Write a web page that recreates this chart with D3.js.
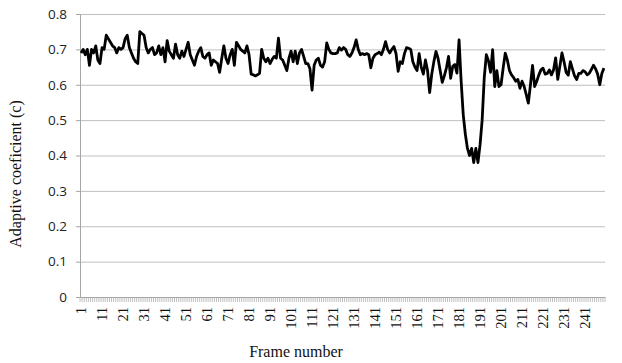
<!DOCTYPE html>
<html>
<head>
<meta charset="utf-8">
<script src="https://cdn.jsdelivr.net/npm/d3@7"></script>
<style>
  body { margin: 0; background: #fff; }
  svg { display: block; }
</style>
</head>
<body>
<svg id="chart"></svg>
<script>
// adaptive coefficient per frame
const coefficient = [
  0.690, 0.700, 0.685, 0.700, 0.655, 0.700, 0.690, 0.710, 0.670, 0.660,
  0.705, 0.700, 0.740, 0.730, 0.720, 0.710, 0.705, 0.690, 0.705, 0.700,
  0.705, 0.730, 0.740, 0.705, 0.690, 0.675, 0.665, 0.660, 0.750, 0.745,
  0.740, 0.705, 0.690, 0.700, 0.705, 0.685, 0.690, 0.710, 0.685, 0.705,
  0.665, 0.725, 0.695, 0.685, 0.675, 0.715, 0.685, 0.675, 0.695, 0.680,
  0.700, 0.720, 0.685, 0.670, 0.655, 0.680, 0.695, 0.705, 0.680, 0.675,
  0.685, 0.690, 0.655, 0.670, 0.665, 0.660, 0.635, 0.675, 0.710, 0.675,
  0.660, 0.685, 0.700, 0.655, 0.720, 0.710, 0.700, 0.695, 0.690, 0.710,
  0.685, 0.630, 0.628, 0.625, 0.628, 0.632, 0.700, 0.675, 0.665, 0.675,
  0.660, 0.672, 0.680, 0.675, 0.732, 0.675, 0.670, 0.655, 0.640, 0.675,
  0.695, 0.665, 0.695, 0.660, 0.690, 0.700, 0.680, 0.660, 0.660, 0.645,
  0.585, 0.655, 0.670, 0.675, 0.655, 0.650, 0.665, 0.718, 0.700, 0.690,
  0.688, 0.688, 0.690, 0.705, 0.698, 0.705, 0.700, 0.685, 0.680, 0.690,
  0.705, 0.727, 0.700, 0.685, 0.688, 0.685, 0.688, 0.685, 0.648, 0.675,
  0.685, 0.688, 0.692, 0.685, 0.700, 0.722, 0.700, 0.690, 0.700, 0.708,
  0.688, 0.638, 0.665, 0.660, 0.688, 0.705, 0.703, 0.700, 0.665, 0.650,
  0.640, 0.688, 0.650, 0.630, 0.670, 0.640, 0.578, 0.630, 0.665, 0.694,
  0.675, 0.640, 0.607, 0.625, 0.648, 0.680, 0.618, 0.652, 0.657, 0.633,
  0.727, 0.610, 0.515, 0.460, 0.420, 0.400, 0.420, 0.380, 0.420, 0.380,
  0.430, 0.500, 0.620, 0.685, 0.668, 0.635, 0.699, 0.595, 0.640, 0.595,
  0.600, 0.647, 0.689, 0.670, 0.640, 0.628, 0.620, 0.610, 0.615, 0.590,
  0.610, 0.595, 0.572, 0.548, 0.600, 0.655, 0.595, 0.610, 0.628, 0.642,
  0.647, 0.630, 0.632, 0.642, 0.628, 0.642, 0.676, 0.615, 0.652, 0.690,
  0.665, 0.635, 0.627, 0.665, 0.645, 0.625, 0.615, 0.632, 0.632, 0.640,
  0.637, 0.628, 0.632, 0.643, 0.655, 0.645, 0.630, 0.600, 0.632, 0.647
];
const frames = coefficient.map((d, i) => i + 1);
const frameLabels = frames.filter(f => (f - 1) % 10 === 0);
const yTicks = [0, 0.1, 0.2, 0.3, 0.4, 0.5, 0.6, 0.7, 0.8];

const width = 622, height = 363;
const margin = { top: 14, right: 17, bottom: 66, left: 80 };

const svg = d3.select('#chart')
  .attr('width', width)
  .attr('height', height);

const x = d3.scaleBand()
  .domain(frames)
  .range([margin.left, width - margin.right]);

const y = d3.scaleLinear()
  .domain([0, 0.8])
  .range([height - margin.bottom, margin.top]);

// horizontal gridlines
svg.append('g')
  .attr('transform', `translate(${margin.left},0)`)
  .call(d3.axisLeft(y).tickValues(yTicks.slice(1)).tickSize(-(width - margin.left - margin.right)).tickFormat(''))
  .call(g => g.select('.domain').remove())
  .call(g => g.selectAll('line').attr('stroke', '#bfbfbf'));

// y axis
svg.append('g')
  .attr('transform', `translate(${margin.left},0)`)
  .call(d3.axisLeft(y).tickValues(yTicks).tickSize(4).tickPadding(9)
    .tickFormat(d => d === 0 ? '0' : d3.format('.1f')(d)))
  .call(g => g.select('.domain').attr('stroke', '#a6a6a6'))
  .call(g => g.selectAll('line').attr('stroke', '#a6a6a6'))
  .call(g => g.selectAll('text')
    .attr('fill', '#222')
    .style('font-family', 'Open Sans, Liberation Sans, sans-serif')
    .style('font-size', '13.5px'));

// x axis: one tick per frame on band edges
const y0 = y(0);
svg.append('g')
  .selectAll('line')
  .data(frames.concat([frames.length + 1]))
  .join('line')
  .attr('x1', d => d <= frames.length ? x(d) : x(frames.length) + x.bandwidth())
  .attr('x2', d => d <= frames.length ? x(d) : x(frames.length) + x.bandwidth())
  .attr('y1', y0)
  .attr('y2', y0 + 5)
  .attr('stroke', '#b0b0b0')
  .attr('stroke-width', 0.8);

svg.append('g')
  .attr('transform', `translate(0,${y0})`)
  .call(d3.axisBottom(x).tickValues(frameLabels).tickSize(0).tickPadding(0))
  .call(g => g.select('.domain').attr('stroke', '#a6a6a6'))
  .call(g => g.selectAll('text')
    .attr('transform', 'rotate(-90)')
    .attr('x', -10)
    .attr('y', 0)
    .attr('dy', '0.35em')
    .attr('text-anchor', 'end')
    .attr('fill', '#111')
    .style('font-family', 'Liberation Serif, DejaVu Serif, serif')
    .style('font-size', '14.5px'));

// series line
const line = d3.line()
  .x((d, i) => x(frames[i]) + x.bandwidth() / 2)
  .y(d => y(d));

svg.append('path')
  .datum(coefficient)
  .attr('d', line)
  .attr('fill', 'none')
  .attr('stroke', '#000')
  .attr('stroke-width', 2.8)
  .attr('stroke-linejoin', 'round');

// axis titles
svg.append('text')
  .attr('transform', `translate(21,174) rotate(-90)`)
  .attr('text-anchor', 'middle')
  .attr('fill', '#111')
  .style('font-family', 'Liberation Serif, DejaVu Serif, serif')
  .style('font-size', '16px')
  .text('Adaptive coeficient (c)');

svg.append('text')
  .attr('x', 296)
  .attr('y', 357)
  .attr('text-anchor', 'middle')
  .attr('fill', '#111')
  .style('font-family', 'Liberation Serif, DejaVu Serif, serif')
  .style('font-size', '16px')
  .text('Frame number');
</script>
</body>
</html>
